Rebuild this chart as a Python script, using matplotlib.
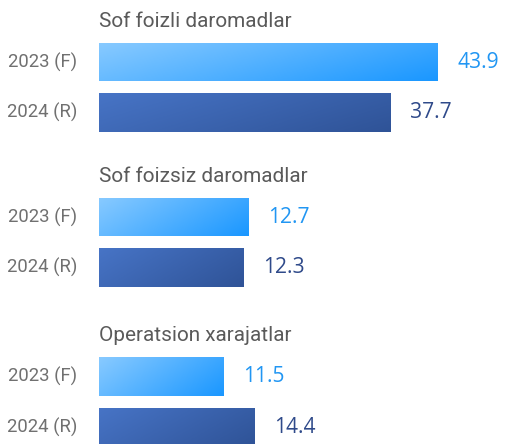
import numpy as np
import matplotlib
matplotlib.use("Agg")
import matplotlib.pyplot as plt
from matplotlib.colors import LinearSegmentedColormap

# ---- data ----
groups = ["Sof foizli daromadlar", "Sof foizsiz daromadlar", "Operatsion xarajatlar"]
series = ["2023 (F)", "2024 (R)"]
values_2023 = [43.9, 12.7, 11.5]
values_2024 = [37.7, 12.3, 14.4]
group_xmax = [53.1, 34.9, 38.0]   # per-panel scale

W, H = 509, 444
DPI = 100
fig = plt.figure(figsize=(W / DPI, H / DPI), dpi=DPI)
fig.patch.set_facecolor("white")

plt.rcParams['font.family'] = ['Roboto', 'DejaVu Sans']

grad_colors = [("#88caff", "#1a97ff"), ("#4774c6", "#2f5397")]
value_colors = ["#2196f3", "#2f4a8a"]

centers1 = [62, 217, 376.5]
step = 50.5
bar_h = 0.76

def px2pt(p):
    return p * 72.0 / DPI

for gi, g in enumerate(groups):
    top = centers1[gi] - step * 0.5
    bottom = centers1[gi] + step * 1.5
    left = 99
    ax = fig.add_axes([left / W, 1 - bottom / H, (W - left) / W, (bottom - top) / H])
    ax.set_xlim(0, group_xmax[gi])
    ax.set_ylim(1.5, -0.5)
    ax.axis("off")
    vals = [values_2023[gi], values_2024[gi]]
    bars = ax.barh([0, 1], vals, height=bar_h, color="none", edgecolor="none")
    for si, (b, v) in enumerate(zip(bars, vals)):
        x0, y0 = b.get_x(), b.get_y()
        w, h = b.get_width(), b.get_height()
        c0, c1 = grad_colors[si]
        cmap = LinearSegmentedColormap.from_list("g%d" % si, [c0, c1])
        nx, ny = 200, 40
        xx, yy = np.meshgrid(np.linspace(0, 1, nx), np.linspace(0, 1, ny))
        grad = 0.7 * xx + 0.3 * yy
        im = ax.imshow(grad, cmap=cmap, extent=(x0, x0 + w, y0 + h, y0),
                       origin="upper", aspect="auto", interpolation="bilinear", zorder=2)
        im.set_clip_path(b)
        ax.annotate(f"{v:.1f}", xy=(v, y0 + h / 2), xytext=(px2pt(20), 0),
                    textcoords="offset points", ha="left", va="center",
                    fontsize=px2pt(21), color=value_colors[si],
                    family=['Open Sans', 'DejaVu Sans'], fontweight="normal",
                    annotation_clip=False)
        ax.annotate(series[si], xy=(0, y0 + h / 2), xytext=(-px2pt(22), 0),
                    textcoords="offset points", ha="right", va="center",
                    fontsize=px2pt(18.5), color="#707070", fontweight="normal",
                    annotation_clip=False)
    ax.set_xlim(0, group_xmax[gi])
    ax.set_ylim(1.5, -0.5)
    ax.annotate(g, xy=(0, -bar_h / 2), xytext=(0, px2pt(16)),
                textcoords="offset points", ha="left", va="baseline",
                fontsize=px2pt(20.8), color="#5a5a5a", annotation_clip=False)

fig.savefig("out.png", dpi=DPI, facecolor="white")
